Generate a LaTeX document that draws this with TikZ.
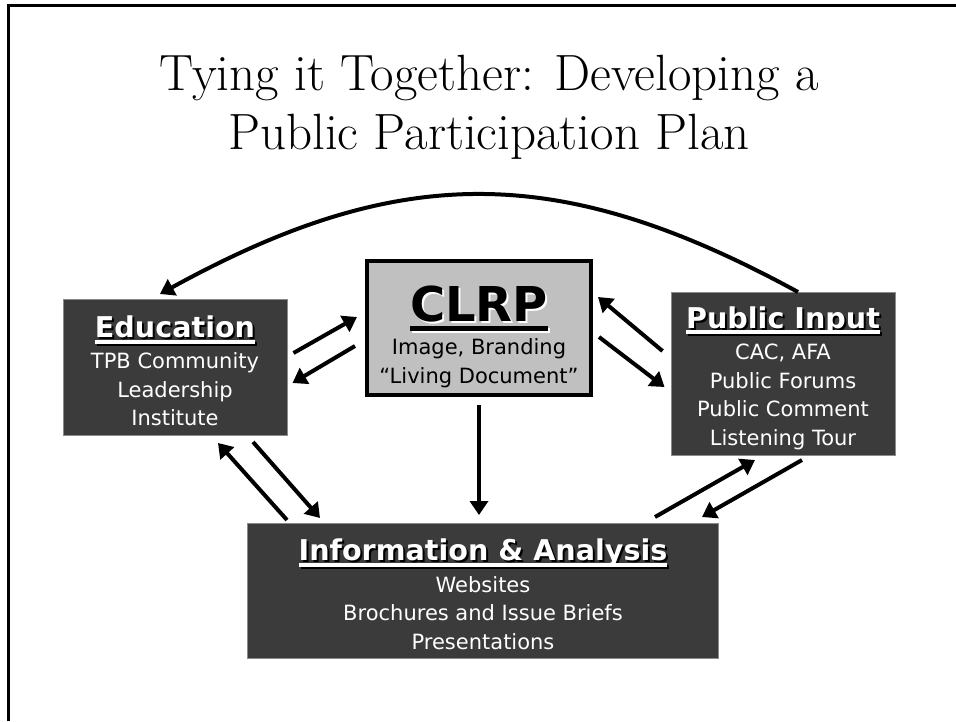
\documentclass[tikz,border=0pt]{standalone}
\usepackage{fontspec}
\newfontfamily\boxfont{DejaVu Sans}
\usetikzlibrary{arrows.meta}
\definecolor{boxgray}{HTML}{3B3B3B}
\definecolor{clrpgray}{HTML}{C0C0C0}
\definecolor{edgegray}{HTML}{8A8A8A}
% heading with drop shadow and thick underline
\newcommand{\shadowhead}[5]{%
  \setbox0\hbox{#5}%
  \rlap{\kern2pt\lower2pt\hbox{\color{#2}\copy0\kern-\wd0\rule[-#3]{\wd0}{#4}}}%
  \hbox{\color{#1}\copy0\kern-\wd0\rule[-#3]{\wd0}{#4}}}
\newcommand{\bodyfont}{\boxfont\fontsize{21}{28.5}\selectfont}
\newcommand{\headfont}{\boxfont\bfseries\fontsize{28.6}{34}\selectfont}

\begin{document}
\begin{tikzpicture}[x=1pt,y=-1pt]
    \tikzstyle{darkbox}=[rectangle,draw=edgegray,line width=1pt,fill=boxgray,text=white,
        minimum width=224pt,inner sep=0pt,align=center,font=\bodyfont]
    \tikzstyle{clrpbox}=[rectangle,draw=black,line width=4pt,fill=clrpgray,text=black,
        minimum width=224pt,minimum height=134pt,inner sep=0pt,align=center,font=\bodyfont]
    \tikzstyle{link}=[line width=4pt,-{Triangle[length=14pt,width=18pt]}]
    \useasboundingbox (0,0) rectangle (956,721);
    \draw[line width=3pt] (8,721) -- (8,5.5) -- (956,5.5);

    \node[font=\fontsize{51}{59}\selectfont,align=center] (title) at (489,107.7)
        {Tying it Together: Developing a\\Public Participation Plan};

    \node[clrpbox] (clrp) at (479,328)
        {\rule{0pt}{53pt}{\boxfont\bfseries\fontsize{48}{56}\selectfont\shadowhead{black}{white}{10pt}{5pt}{CLRP}}\\[5pt]
         Image, Branding\\ “Living Document”};
    \node[darkbox,minimum height=136pt] (edu) at (175,367.5)
        {\rule{0pt}{29pt}{\headfont\shadowhead{white}{black}{6pt}{4pt}{Education}}\\[2.5pt]
         TPB Community\\ Leadership\\ Institute};
    \node[darkbox,minimum height=163pt] (pub) at (783,374)
        {\rule{0pt}{30pt}{\headfont\shadowhead{white}{black}{6pt}{4pt}{Public Input}}\\[3pt]
         CAC, AFA\\ Public Forums\\ Public Comment\\ Listening Tour};
    \node[darkbox,minimum width=471pt,minimum height=135pt] (info) at (483,591)
        {\rule{0pt}{28pt}{\headfont\shadowhead{white}{black}{6pt}{4pt}{Information \& Analysis}}\\[3pt]
         Websites\\ Brochures and Issue Briefs\\ Presentations};

    % arc from public input back to education
    \draw[link] ([shift={(15,0)}]pub.north) .. controls (560,162) and (400,162) .. ([shift={(-15,-5)}]edu.north);

    \draw[link] ([shift={(6,54)}]edu.north east) -- ([shift={(-8,58)}]clrp.north west);
    \draw[link] ([shift={(-10,87)}]clrp.north west) -- ([shift={(5,84)}]edu.north east);
    \draw[link] ([shift={(-8,59)}]pub.north west) -- ([shift={(5,38)}]clrp.north east);
    \draw[link] ([shift={(6,78)}]clrp.north east) -- ([shift={(-6,95)}]pub.north west);
    \draw[link] ([shift={(0,8)}]clrp.south) -- ([shift={(-4,-8)}]info.north);
    \draw[link] ([shift={(40,-3)}]info.north west) -- ([shift={(43,7)}]edu.south);
    \draw[link] ([shift={(78,6)}]edu.south) -- ([shift={(73,-5)}]info.north west);
    \draw[link] ([shift={(-64,-6)}]info.north east) -- ([shift={(-28,4)}]pub.south);
    \draw[link] ([shift={(19,4)}]pub.south) -- ([shift={(-17,-6)}]info.north east);
\end{tikzpicture}
\end{document}
